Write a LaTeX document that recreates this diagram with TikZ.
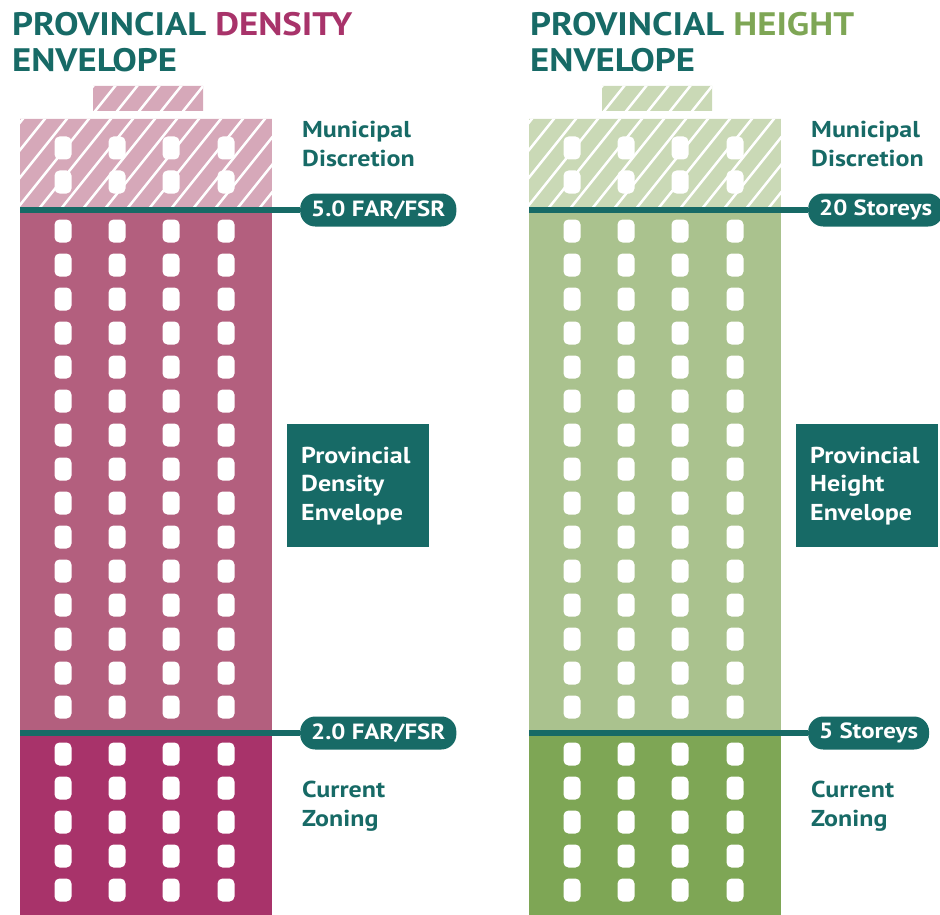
\documentclass[tikz,border=0pt]{standalone}
\usepackage{fontspec}
\setmainfont{PT Sans}[FakeStretch=1.13]
\usetikzlibrary{positioning}
\definecolor{meteal}{HTML}{176A66}
\definecolor{mepink}{HTML}{A8336A}
\definecolor{mepinkmid}{HTML}{B35F7E}
\definecolor{mepinklight}{HTML}{D6A8B9}
\definecolor{megreen}{HTML}{7EA655}
\definecolor{megreenmid}{HTML}{AAC28E}
\definecolor{megreenlight}{HTML}{CAD9B6}

\tikzset{
	heading/.style={anchor=north west, inner sep=0pt, align=left, text=meteal, font=\bfseries\fontsize{32.5}{36}\selectfont},
	sidetext/.style={anchor=north west, inner sep=0pt, align=left, text=meteal, font=\bfseries\fontsize{23}{28.5}\selectfont},
	pill/.style={anchor=west, fill=meteal, text=white, rounded corners=15pt, minimum height=33pt, inner xsep=11pt, font=\bfseries\fontsize{22}{24}\selectfont},
	envbox/.style={anchor=north west, fill=meteal, text=white, minimum width=142pt, minimum height=123pt, text width=114pt, inner xsep=14pt, align=left, font=\bfseries\fontsize{23}{28.5}\selectfont},
	level/.style={draw=meteal, line width=5.5pt},
	stripe/.style={draw=white, line width=2.5pt},
	window/.style={fill=white, rounded corners=5pt}
}

\begin{document}
\begin{tikzpicture}[x=1pt, y=-1pt]
	\useasboundingbox (0,0) rectangle (940,915);

	% the two towers: offset / hatched / middle / lower colour
	\foreach \dx/\light/\mid/\dark in {0/mepinklight/mepinkmid/mepink, 509/megreenlight/megreenmid/megreen} {
		\fill[\mid] (20+\dx,210) rectangle (272+\dx,733);
		\fill[\dark] (20+\dx,733) rectangle (272+\dx,915);
		% hatched top and rooftop
		\begin{scope}
			\clip (93+\dx,86) rectangle (203+\dx,111) (20+\dx,119) rectangle (272+\dx,210);
			\fill[\light] (20+\dx,80) rectangle (272+\dx,210);
			\foreach \s in {-120,-98,...,280}
				\draw[stripe] (\s+\dx,215) -- ++(104,-130);
		\end{scope}
		% windows
		\foreach \c in {63,117,171,226} {
			\foreach \r in {148,182}
				\fill[window] (\c+\dx-8.5,\r-11.5) rectangle ++(17,23);
			\foreach \r in {231,265,...,707}
				\fill[window] (\c+\dx-8.5,\r-11.5) rectangle ++(17,23);
			\foreach \r in {754,788,...,890}
				\fill[window] (\c+\dx-8.5,\r-11.5) rectangle ++(17,23);
		}
	}

	% titles
	\node[heading] (titleD) at (12,12) {PROVINCIAL {\color{mepink}DENSITY}\\ENVELOPE};
	\node[heading] (titleH) at (530,12) {PROVINCIAL {\color{megreen}HEIGHT}\\ENVELOPE};

	% density side
	\coordinate (upD) at (20,210);
	\coordinate (lowD) at (20,733);
	\node[pill] (capD) at (300,210) {5.0 FAR/FSR};
	\node[pill] (baseD) at (300,733) {2.0 FAR/FSR};
	\draw[level] (upD) -- (capD.west);
	\draw[level] (lowD) -- (baseD.west);
	\node[sidetext] (muniD) at (302,121) {Municipal\\Discretion};
	\node[envbox] (envD) at (287,424) {Provincial\\Density\\Envelope};
	\node[sidetext] (zoneD) at (302,781) {Current\\Zoning};

	% height side
	\coordinate (upH) at (529,210);
	\coordinate (lowH) at (529,733);
	\node[pill] (capH) at (808,210) {20 Storeys};
	\node[pill] (baseH) at (808,733) {5 Storeys};
	\draw[level] (upH) -- (capH.west);
	\draw[level] (lowH) -- (baseH.west);
	\node[sidetext] (muniH) at (811,121) {Municipal\\Discretion};
	\node[envbox] (envH) at (796,424) {Provincial\\Height\\Envelope};
	\node[sidetext] (zoneH) at (811,781) {Current\\Zoning};
\end{tikzpicture}
\end{document}
